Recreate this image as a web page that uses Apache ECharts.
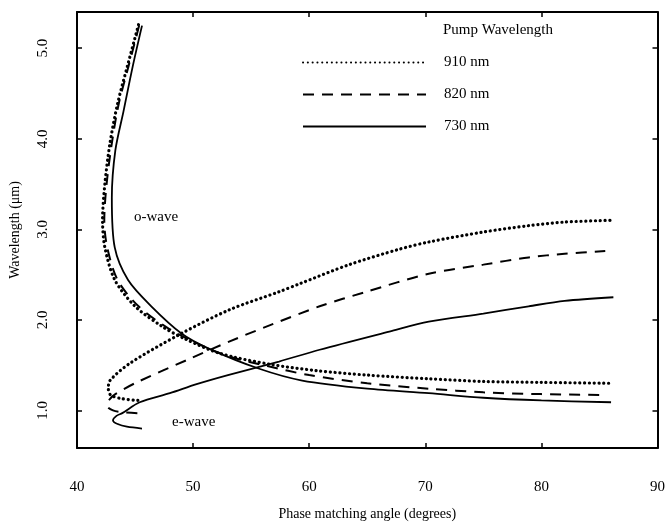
<!DOCTYPE html>
<html>
<head>
<meta charset="utf-8">
<script src="https://cdn.jsdelivr.net/npm/echarts@6/dist/echarts.min.js"></script>
<style>
  html, body { margin: 0; padding: 0; background: #fff; }
  #chart { width: 668px; height: 526px; }
</style>
</head>
<body>
<div id="chart"></div>
<script>
// tick labels
const xTicks = [40, 50, 60, 70, 80, 90]
const yTicks = [1, 2, 3, 4, 5]
const pumpNames = ['910 nm', '820 nm', '730 nm']

// [phase matching angle (deg), wavelength (um)]
const oWave910 = [[45.3, 5.26], [44.4, 4.83], [43.5, 4.39], [42.84, 3.95], [42.4, 3.5], [42.2, 3.1], [42.4, 2.8],
  [43.26, 2.44], [45.0, 2.15], [47.3, 1.93], [49.3, 1.79], [52.3, 1.63], [56.6, 1.51], [60.6, 1.44],
  [65.0, 1.39], [70.3, 1.35], [75.0, 1.32], [80.0, 1.31], [85.8, 1.30]]
const oWave820 = [[45.35, 5.25], [44.5, 4.83], [43.6, 4.39], [43.0, 3.95], [42.55, 3.5], [42.35, 3.1], [42.6, 2.8],
  [43.5, 2.44], [45.3, 2.15], [47.7, 1.92], [50.0, 1.76], [53.0, 1.60], [56.4, 1.49], [60.0, 1.39],
  [65.0, 1.30], [70.3, 1.24], [75.0, 1.20], [80.0, 1.18], [85.5, 1.17]]
const oWave730 = [[45.6, 5.25], [44.8, 4.8], [44.0, 4.3], [43.3, 3.87], [43.0, 3.35], [43.25, 2.8],
  [44.4, 2.44], [46.4, 2.15], [49.0, 1.85], [51.4, 1.68], [55.7, 1.46], [59.4, 1.33],
  [65.0, 1.24], [70.3, 1.19], [75.0, 1.14], [80.0, 1.11], [86.0, 1.09]]

const eWave910 = [[45.24, 1.11], [43.87, 1.13], [42.9, 1.17], [42.7, 1.24], [42.84, 1.33], [44.55, 1.52],
  [48.85, 1.84], [53.1, 2.11], [57.4, 2.31], [59.2, 2.40], [63.45, 2.61], [67.75, 2.78], [70.3, 2.86],
  [75.0, 2.97], [78.9, 3.04], [82.0, 3.08], [86.0, 3.10]]
const eWave820 = [[45.2, 0.97], [44.0, 0.98], [43.1, 1.0], [42.6, 1.05], [42.8, 1.12], [43.3, 1.18],
  [45.15, 1.31], [49.7, 1.57], [53.1, 1.76], [56.8, 1.95], [60.9, 2.15], [64.9, 2.31], [70.3, 2.51],
  [75.0, 2.61], [78.9, 2.69], [82.0, 2.73], [85.5, 2.76]]
const eWave730 = [[45.6, 0.80], [44.3, 0.82], [43.5, 0.85], [43.1, 0.89], [43.4, 0.94], [43.9, 0.97],
  [45.4, 1.09], [48.0, 1.19], [50.3, 1.29], [53.0, 1.39], [57.4, 1.54], [60.9, 1.67], [66.9, 1.87],
  [70.3, 1.98], [75.0, 2.07], [78.9, 2.15], [82.0, 2.21], [86.2, 2.25]]

const serif = 'Liberation Serif'

const styles = {
  '910 nm': { color: '#000', width: 3.2, type: [0.1, 4.7], cap: 'round' },
  '820 nm': { color: '#000', width: 2, type: [11, 8] },
  '730 nm': { color: '#000', width: 1.8, type: 'solid' }
}

const curve = (name, data) => ({
  name,
  type: 'line',
  data,
  symbol: 'none',
  smooth: 0.3,
  lineStyle: styles[name],
  itemStyle: { color: '#000' },
  silent: true
})

const frameAxis = {
  axisLine: { show: true, lineStyle: { color: '#000', width: 2 } },
  axisTick: { show: true, inside: true, length: 5, lineStyle: { color: '#000', width: 1.5 } },
  splitLine: { show: false }
}

const myChart = echarts.init(document.getElementById('chart'))
const option = {
  animation: false,
  title: {
    text: 'Pump Wavelength',
    left: 443,
    top: 23,
    padding: 0,
    textStyle: { fontFamily: serif, fontSize: 15, fontWeight: 'normal', color: '#000' }
  },
  legend: {
    data: pumpNames,
    orient: 'vertical',
    left: 302,
    top: 55,
    padding: 0,
    itemWidth: 123,
    itemHeight: 14,
    itemGap: 17,
    selectedMode: false,
    itemStyle: { opacity: 0 },
    textStyle: { fontFamily: serif, fontSize: 15, color: '#000', padding: [0, 0, 0, 13] }
  },
  grid: { left: 77, right: 9, top: 12, bottom: 73 },
  xAxis: [{
    ...frameAxis,
    type: 'value',
    min: xTicks[0],
    max: xTicks[xTicks.length - 1],
    interval: 10,
    name: 'Phase matching angle (degrees)',
    nameLocation: 'middle',
    nameGap: 59,
    nameTextStyle: { fontFamily: serif, fontSize: 14, color: '#000' },
    axisLabel: { margin: 32, fontFamily: serif, fontSize: 15, color: '#000' }
  }, {
    ...frameAxis,
    type: 'value',
    position: 'top',
    min: xTicks[0],
    max: xTicks[xTicks.length - 1],
    interval: 10,
    axisLabel: { show: false }
  }],
  yAxis: [{
    ...frameAxis,
    type: 'value',
    min: 0.585,
    max: 5.4,
    name: 'Wavelength (\u03bcm)',
    nameLocation: 'middle',
    nameRotate: 90,
    nameGap: 55,
    nameTextStyle: { fontFamily: serif, fontSize: 14, color: '#000' },
    axisTick: { ...frameAxis.axisTick, customValues: yTicks },
    axisLabel: {
      customValues: yTicks,
      rotate: 90,
      margin: 26,
      fontFamily: serif,
      fontSize: 15,
      color: '#000',
      formatter: (v) => v.toFixed(1)
    }
  }, {
    ...frameAxis,
    type: 'value',
    position: 'right',
    min: 0.585,
    max: 5.4,
    axisTick: { ...frameAxis.axisTick, customValues: yTicks },
    axisLabel: { show: false }
  }],
  graphic: [
    { type: 'text', left: 134, top: 210, style: { text: 'o-wave', fontFamily: serif, fontSize: 15, fill: '#000' } },
    { type: 'text', left: 172, top: 415, style: { text: 'e-wave', fontFamily: serif, fontSize: 15, fill: '#000' } }
  ],
  series: [
    curve('910 nm', oWave910),
    curve('820 nm', oWave820),
    curve('730 nm', oWave730),
    curve('910 nm', eWave910),
    curve('820 nm', eWave820),
    curve('730 nm', eWave730)
  ]
}
myChart.setOption(option)
</script>
</body>
</html>
